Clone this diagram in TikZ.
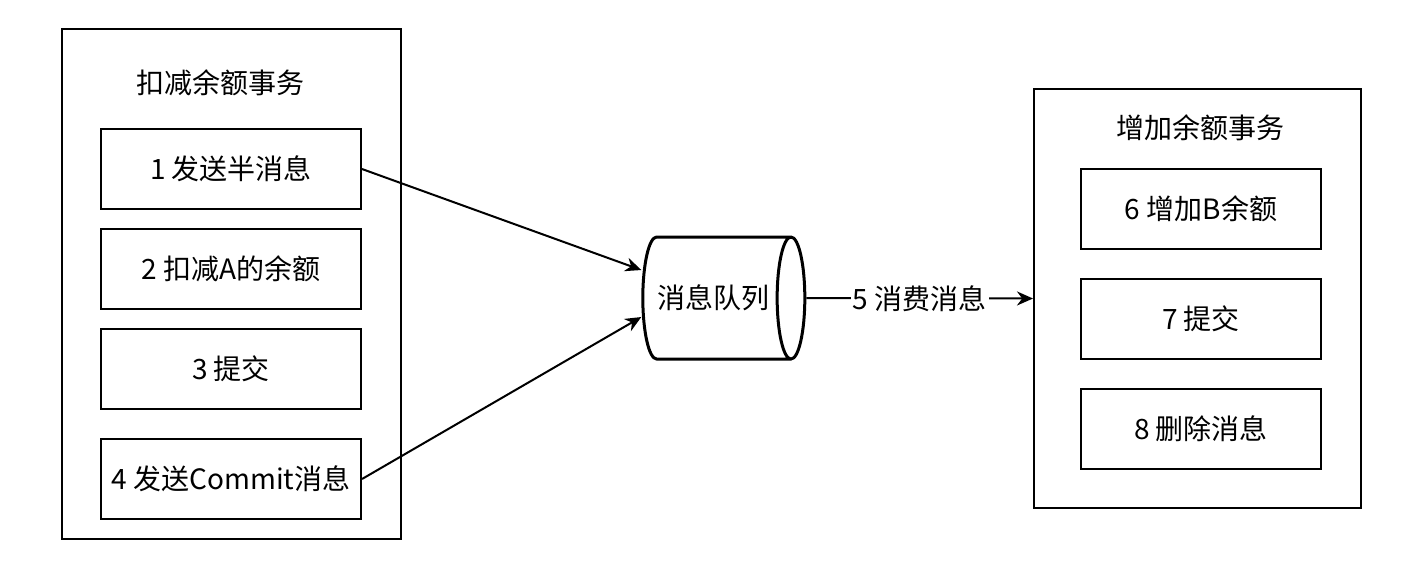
\documentclass[tikz,border=0pt]{standalone}
\usepackage{fontspec}
\setmainfont{Noto Sans CJK SC}
\usetikzlibrary{shapes.geometric,arrows.meta}

\begin{document}
\begin{tikzpicture}[x=0.5pt, y=-0.5pt, font=\fontsize{14}{17}\selectfont]
        \tikzset{
            group/.style={draw=black, line width=1pt},
            stepbox/.style={draw=black, line width=1pt, minimum width=130pt, minimum height=40pt},
            queue/.style={draw=black, line width=1.5pt, shape=cylinder, aspect=0.7,
                minimum width=61pt, minimum height=81pt, inner xsep=2pt},
            flow/.style={-{Stealth[length=8pt,width=7pt]}, line width=1pt}
        }
        \useasboundingbox (0,0) rectangle (1422,570);

        % left side: debit transaction
        \node[group, minimum width=169.5pt, minimum height=255pt] (debit) at (231.5,284) {};
        \node (debittitle) at (220,83) {扣减余额事务};
        \node[stepbox] (s1) at (231,169) {1 发送半消息};
        \node[stepbox] (s2) at (231,269) {2 扣减A的余额};
        \node[stepbox] (s3) at (231,369) {3 提交};
        \node[stepbox] (s4) at (231,479) {4 发送Commit消息};

        % message queue
        \node[queue] (mq) at (713,298) {消息队列};

        % right side: credit transaction
        \node[group, minimum width=163.5pt, minimum height=209.5pt] (credit) at (1197.5,298.5) {};
        \node (credittitle) at (1200,128) {增加余额事务};
        \node[stepbox, minimum width=120pt] (s6) at (1201,209) {6 增加B余额};
        \node[stepbox, minimum width=120pt] (s7) at (1201,319) {7 提交};
        \node[stepbox, minimum width=120pt] (s8) at (1201,429) {8 删除消息};

        \draw[flow] (s1.east) -- ([yshift=14pt]mq.west);
        \draw[flow] (s4.east) -- ([yshift=-9.5pt]mq.west);
        \draw[flow] (mq.east) -- node[fill=white, inner sep=1pt] {5 消费消息} (credit.west);
    \end{tikzpicture}
\end{document}
